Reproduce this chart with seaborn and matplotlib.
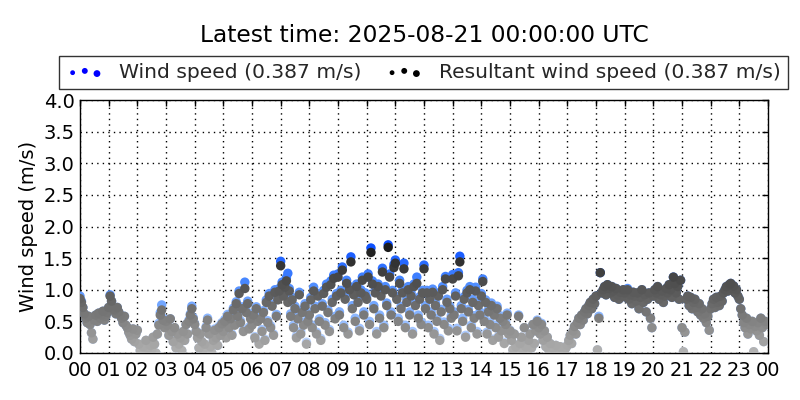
import numpy as np
import pandas as pd
import matplotlib
matplotlib.use("Agg")
import matplotlib.pyplot as plt
import matplotlib.dates as mdates
from matplotlib.colors import LinearSegmentedColormap
from matplotlib.legend_handler import HandlerPathCollection
import seaborn as sns

# ---------------------------------------------------------
# data: 3-minute samples, one row per hour (20 values)
# ---------------------------------------------------------
resultant_rows = [
    [0.86, 0.80, 0.72, 0.62, 0.55, 0.48, 0.58, 0.45, 0.32, 0.22, 0.52, 0.60, 0.50, 0.63, 0.55, 0.60, 0.66, 0.52, 0.58, 0.64],
    [0.72, 0.90, 0.82, 0.70, 0.68, 0.62, 0.72, 0.65, 0.60, 0.55, 0.48, 0.58, 0.44, 0.40, 0.33, 0.28, 0.22, 0.38, 0.18, 0.30],
    [0.36, 0.14, 0.04, 0.00, 0.10, 0.02, 0.20, 0.07, 0.00, 0.12, 0.05, 0.25, 0.14, 0.00, 0.30, 0.44, 0.60, 0.68, 0.52, 0.40],
    [0.50, 0.44, 0.28, 0.54, 0.34, 0.18, 0.40, 0.08, 0.30, 0.14, 0.24, 0.04, 0.34, 0.20, 0.45, 0.30, 0.50, 0.60, 0.70, 0.54],
    [0.45, 0.34, 0.24, 0.08, 0.30, 0.18, 0.04, 0.14, 0.40, 0.52, 0.30, 0.10, 0.00, 0.20, 0.36, 0.24, 0.12, 0.40, 0.28, 0.46],
    [0.34, 0.50, 0.24, 0.58, 0.40, 0.54, 0.28, 0.68, 0.44, 0.78, 0.58, 0.94, 0.48, 0.70, 0.34, 1.02, 0.64, 0.78, 0.38, 0.54],
    [0.44, 0.60, 0.24, 0.70, 0.50, 0.14, 0.54, 0.34, 0.64, 0.20, 0.80, 0.48, 0.90, 0.40, 0.74, 0.28, 0.96, 0.58, 0.84, 0.98],
    [1.38, 1.08, 0.90, 1.04, 1.14, 0.80, 0.98, 0.58, 0.84, 0.40, 0.70, 0.24, 0.54, 0.92, 0.30, 0.64, 0.44, 0.74, 0.14, 0.50],
    [0.60, 0.84, 0.40, 0.98, 0.70, 0.30, 0.90, 0.50, 0.20, 0.74, 0.94, 0.44, 1.04, 0.64, 0.34, 1.08, 0.80, 1.18, 0.54, 0.90],
    [1.20, 0.60, 0.95, 1.31, 0.40, 0.85, 1.10, 0.30, 1.00, 1.44, 0.70, 0.92, 0.50, 1.05, 0.80, 0.35, 0.95, 1.15, 0.60, 0.90],
    [0.85, 1.20, 0.45, 1.59, 1.09, 0.70, 0.95, 0.30, 1.05, 0.55, 0.90, 1.28, 0.40, 1.00, 0.75, 1.67, 1.20, 0.60, 0.95, 1.35],
    [1.42, 0.85, 0.50, 1.10, 0.70, 0.95, 1.33, 0.40, 0.80, 1.00, 0.60, 0.90, 0.30, 1.05, 0.75, 1.10, 0.55, 0.85, 0.45, 0.95],
    [1.33, 0.70, 0.95, 0.40, 0.85, 0.60, 0.96, 0.30, 0.75, 0.50, 0.90, 0.20, 0.65, 1.00, 0.45, 1.17, 0.80, 0.35, 0.70, 0.55],
    [1.17, 0.60, 0.90, 0.35, 1.22, 1.44, 0.70, 0.50, 0.85, 0.25, 0.95, 0.65, 1.00, 0.40, 0.80, 0.55, 0.98, 0.30, 0.75, 0.60],
    [0.90, 1.13, 0.50, 0.80, 0.30, 0.65, 0.45, 0.75, 0.20, 0.60, 0.40, 0.70, 0.25, 0.55, 0.35, 0.50, 0.15, 0.45, 0.60, 0.30],
    [0.35, 0.20, 0.05, 0.30, 0.10, 0.00, 0.58, 0.15, 0.25, 0.05, 0.40, 0.10, 0.00, 0.20, 0.30, 0.08, 0.45, 0.15, 0.35, 0.50],
    [0.40, 0.30, 0.45, 0.20, 0.35, 0.10, 0.25, 0.05, 0.15, 0.00, 0.08, 0.02, 0.12, 0.00, 0.05, 0.10, 0.00, 0.06, 0.02, 0.08],
    [0.12, 0.20, 0.28, 0.15, 0.35, 0.42, 0.30, 0.48, 0.55, 0.45, 0.60, 0.52, 0.65, 0.70, 0.62, 0.75, 0.80, 0.70, 0.85, 0.78],
    [0.90, 0.05, 0.55, 1.27, 0.95, 1.00, 1.05, 0.92, 1.08, 1.02, 0.95, 1.05, 0.98, 0.88, 1.02, 0.92, 0.85, 0.96, 0.90, 1.00],
    [0.95, 0.88, 1.00, 0.85, 0.92, 0.78, 0.96, 0.90, 0.82, 0.95, 0.70, 0.88, 1.00, 0.80, 0.92, 0.65, 0.85, 0.95, 0.55, 0.40],
    [0.90, 1.00, 0.95, 1.05, 0.85, 0.92, 0.98, 0.80, 0.90, 1.02, 0.95, 1.08, 1.00, 0.88, 1.20, 1.10, 0.95, 1.05, 0.85, 1.15],
    [0.40, 0.02, 0.33, 0.85, 0.90, 0.75, 0.88, 0.70, 0.80, 0.85, 0.72, 0.65, 0.78, 0.60, 0.70, 0.55, 0.62, 0.48, 0.58, 0.36],
    [0.70, 0.78, 0.85, 0.72, 0.88, 0.80, 0.75, 0.90, 0.82, 0.95, 1.00, 1.05, 0.98, 1.08, 1.10, 1.02, 1.06, 0.95, 1.00, 0.90],
    [0.85, 0.70, 0.60, 0.48, 0.40, 0.55, 0.30, 0.45, 0.38, 0.50, 0.02, 0.42, 0.35, 0.48, 0.28, 0.55, 0.40, 0.18, 0.50, 0.45],
]

speed_rows = [
    [0.90, 0.82, 0.72, 0.62, 0.55, 0.48, 0.58, 0.45, 0.32, 0.22, 0.52, 0.60, 0.50, 0.63, 0.55, 0.60, 0.66, 0.52, 0.58, 0.64],
    [0.72, 0.92, 0.82, 0.70, 0.68, 0.62, 0.72, 0.65, 0.60, 0.55, 0.48, 0.58, 0.44, 0.40, 0.33, 0.28, 0.22, 0.38, 0.18, 0.30],
    [0.36, 0.14, 0.04, 0.00, 0.10, 0.02, 0.20, 0.07, 0.00, 0.12, 0.05, 0.25, 0.14, 0.00, 0.30, 0.47, 0.64, 0.76, 0.55, 0.42],
    [0.50, 0.44, 0.28, 0.54, 0.34, 0.18, 0.40, 0.08, 0.30, 0.14, 0.24, 0.04, 0.34, 0.20, 0.45, 0.30, 0.52, 0.62, 0.74, 0.56],
    [0.46, 0.35, 0.24, 0.08, 0.31, 0.18, 0.04, 0.14, 0.42, 0.55, 0.30, 0.10, 0.00, 0.20, 0.38, 0.24, 0.12, 0.42, 0.28, 0.48],
    [0.36, 0.53, 0.26, 0.61, 0.42, 0.57, 0.30, 0.71, 0.47, 0.81, 0.61, 0.98, 0.51, 0.73, 0.36, 1.12, 0.67, 0.82, 0.41, 0.57],
    [0.46, 0.63, 0.26, 0.73, 0.53, 0.16, 0.57, 0.37, 0.67, 0.22, 0.84, 0.51, 0.94, 0.43, 0.77, 0.30, 1.00, 0.61, 0.87, 1.02],
    [1.45, 1.12, 0.94, 1.07, 1.19, 1.26, 1.02, 0.62, 0.88, 0.44, 0.74, 0.27, 0.58, 0.96, 0.34, 0.68, 0.48, 0.78, 0.17, 0.54],
    [0.64, 0.88, 0.44, 1.04, 0.74, 0.33, 0.94, 0.54, 0.23, 0.78, 0.99, 0.48, 1.09, 0.68, 0.37, 1.14, 0.85, 1.23, 0.58, 0.94],
    [1.25, 0.65, 0.99, 1.36, 0.44, 0.90, 1.15, 0.33, 1.05, 1.52, 0.75, 0.97, 0.55, 1.09, 0.85, 0.39, 1.00, 1.20, 0.65, 0.95],
    [0.89, 1.25, 0.50, 1.66, 1.14, 0.75, 0.99, 0.34, 1.09, 0.60, 0.95, 1.34, 0.44, 1.05, 0.79, 1.71, 1.25, 0.65, 0.99, 1.40],
    [1.47, 0.89, 0.55, 1.15, 0.74, 0.99, 1.42, 0.44, 0.85, 1.05, 0.65, 0.95, 0.34, 1.09, 0.79, 1.20, 0.60, 0.89, 0.49, 0.99],
    [1.39, 0.75, 0.99, 0.44, 0.89, 0.65, 1.01, 0.34, 0.79, 0.55, 0.95, 0.23, 0.69, 1.05, 0.49, 1.21, 0.85, 0.39, 0.74, 0.59],
    [1.24, 0.65, 0.95, 0.39, 1.27, 1.53, 0.75, 0.55, 0.89, 0.28, 0.99, 0.69, 1.05, 0.44, 0.85, 0.59, 1.04, 0.34, 0.79, 0.65],
    [0.94, 1.17, 0.54, 0.84, 0.33, 0.69, 0.49, 0.79, 0.22, 0.64, 0.44, 0.74, 0.27, 0.59, 0.39, 0.54, 0.17, 0.49, 0.63, 0.33],
    [0.36, 0.20, 0.05, 0.30, 0.10, 0.00, 0.60, 0.15, 0.25, 0.05, 0.40, 0.10, 0.00, 0.20, 0.30, 0.08, 0.45, 0.15, 0.35, 0.52],
    [0.42, 0.30, 0.47, 0.20, 0.35, 0.10, 0.25, 0.05, 0.15, 0.00, 0.08, 0.02, 0.12, 0.00, 0.05, 0.10, 0.00, 0.06, 0.02, 0.08],
    [0.12, 0.20, 0.28, 0.15, 0.35, 0.42, 0.30, 0.48, 0.55, 0.45, 0.60, 0.52, 0.65, 0.70, 0.62, 0.75, 0.80, 0.70, 0.85, 0.78],
    [0.90, 0.05, 0.58, 1.27, 0.95, 1.00, 1.05, 0.92, 1.08, 1.02, 0.95, 1.05, 0.98, 0.88, 1.02, 0.92, 0.85, 0.96, 0.90, 1.00],
    [0.95, 0.88, 1.02, 0.85, 0.92, 0.78, 0.96, 0.90, 0.82, 0.95, 0.70, 0.88, 1.00, 0.80, 0.92, 0.65, 0.85, 0.95, 0.55, 0.40],
    [0.90, 1.00, 0.95, 1.05, 0.85, 0.92, 0.98, 0.80, 0.90, 1.02, 0.95, 1.08, 1.00, 0.88, 1.20, 1.10, 0.95, 1.05, 0.85, 1.15],
    [0.40, 0.02, 0.33, 0.85, 0.90, 0.75, 0.88, 0.70, 0.80, 0.85, 0.72, 0.65, 0.78, 0.60, 0.70, 0.55, 0.62, 0.48, 0.58, 0.36],
    [0.70, 0.78, 0.85, 0.72, 0.88, 0.80, 0.75, 0.90, 0.82, 0.95, 1.00, 1.05, 0.98, 1.08, 1.10, 1.02, 1.06, 0.95, 1.00, 0.90],
    [0.85, 0.70, 0.60, 0.48, 0.40, 0.55, 0.30, 0.45, 0.38, 0.50, 0.02, 0.42, 0.35, 0.48, 0.28, 0.55, 0.40, 0.18, 0.50, 0.45],
]

latest_speed = 0.387
latest_resultant = 0.387
title_text = "Latest time: 2025-08-21 00:00:00 UTC"

times = pd.date_range("2025-08-20 00:00", periods=24 * 20, freq="3min")
df = pd.DataFrame({
    "time": times,
    "speed": np.concatenate(speed_rows),
    "resultant": np.concatenate(resultant_rows),
})

# ---------------------------------------------------------
# styling
# ---------------------------------------------------------
sns.set_theme(style="white")
plt.rcParams["font.family"] = ["DejaVu Sans"]

gray_cmap = LinearSegmentedColormap.from_list("grays", ["#b4b4b4", "#7c7c7c", "#4c4c4c", "#1a1a1a"])
blue_cmap = LinearSegmentedColormap.from_list("blues", ["#cfe0ff", "#8ab6ff", "#4586ff", "#0a4dff"])
norm = (0.0, 1.7)

fig = plt.figure(figsize=(8, 4), dpi=100)
ax = fig.add_axes([80 / 800, 1 - 353 / 400, 688 / 800, 253 / 400])

sns.scatterplot(data=df.sort_values("speed"), x="time", y="speed", hue="speed",
                palette=blue_cmap, hue_norm=norm, s=46, linewidth=0,
                legend=False, ax=ax, zorder=3)
sns.scatterplot(data=df.sort_values("resultant"), x="time", y="resultant", hue="resultant",
                palette=gray_cmap, hue_norm=norm, s=46, linewidth=0,
                legend=False, ax=ax, zorder=4)

ax.set_xlim(pd.Timestamp("2025-08-20 00:00"), pd.Timestamp("2025-08-21 00:00"))
ax.set_ylim(0, 4.0)
ax.set_yticks(np.arange(0, 4.01, 0.5))
ax.yaxis.set_major_formatter(matplotlib.ticker.FormatStrFormatter("%.1f"))
ax.xaxis.set_major_locator(mdates.HourLocator(interval=1))
ax.xaxis.set_major_formatter(mdates.DateFormatter("%H"))
ax.tick_params(direction="in", length=4, width=1, color="black", labelsize=14,
               top=True, right=True, labelcolor="black")
ax.tick_params(axis="x", pad=6)
ax.tick_params(axis="y", pad=4)
ax.grid(True, linestyle=(0, (1, 3)), color="black", linewidth=1.0, zorder=0)
ax.set_axisbelow(True)
for sp in ax.spines.values():
    sp.set_color("black")
    sp.set_linewidth(1)
ax.set_xlabel("")
ax.set_ylabel("Wind speed (m/s)", fontsize=14, color="black", labelpad=4)

# legend with three dots per entry, placed in a box above the axes
h1 = ax.scatter([], [], c="blue", s=20, linewidth=0)
h2 = ax.scatter([], [], c="black", s=20, linewidth=0)
leg = ax.legend(
    [h1, h2],
    [f"Wind speed ({latest_speed:.3f} m/s)", f"Resultant wind speed ({latest_resultant:.3f} m/s)"],
    handler_map={h1: HandlerPathCollection(sizes=[12, 18, 24]),
                 h2: HandlerPathCollection(sizes=[12, 18, 24])},
    scatterpoints=3, ncol=2, loc="center",
    bbox_to_anchor=((65 + 782) / 2 / 800, 1 - 72.5 / 400),
    bbox_transform=fig.transFigure, borderaxespad=0, fontsize=14.6,
    frameon=True, fancybox=False, handlelength=1.8, handletextpad=0.8,
    columnspacing=1.2, borderpad=0.35,
)
leg.get_frame().set_edgecolor("black")
leg.get_frame().set_linewidth(1)

fig.text(424 / 800, 1 - 35 / 400, title_text, ha="center", va="center",
         fontsize=16.8, color="black")

fig.savefig("out.png", dpi=100)
